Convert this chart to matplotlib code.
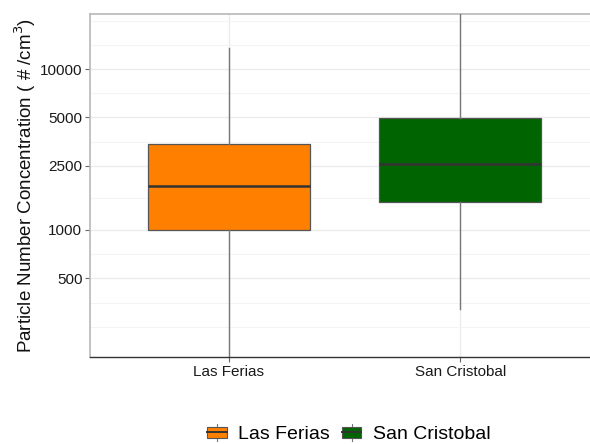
import numpy as np
import matplotlib.pyplot as plt
from matplotlib.legend_handler import HandlerBase
from matplotlib.patches import Rectangle
from matplotlib.lines import Line2D
from matplotlib.ticker import NullFormatter

plt.rcParams['font.family'] = ['Liberation Sans', 'DejaVu Sans']

# Summary statistics per site (particles / cm^3)
sites = ['Las Ferias', 'San Cristobal']
q1 = [995, 1495]
median = [1885, 2570]
q3 = [3435, 4940]
whisker_low = [100, 322]
whisker_high = [13430, 40000]
colors = ['#FF8000', '#006400']

y_major = [500, 1000, 2500, 5000, 10000]
y_minor = [250, 354, 707, 1581, 3536, 7071, 14142, 20000]


class BoxKeyHandler(HandlerBase):
    """Legend key drawn like a small boxplot."""
    def create_artists(self, legend, orig_handle, xdescent, ydescent,
                       width, height, fontsize, trans):
        fc = orig_handle.get_facecolor()
        cx = -xdescent + width / 2
        rect = Rectangle((-xdescent, -ydescent + height * 0.15), width, height * 0.7,
                         facecolor=fc, edgecolor='#555555', lw=0.8, transform=trans)
        med = Line2D([-xdescent, -xdescent + width], [-ydescent + height / 2] * 2,
                     color='#333333', lw=1.4, transform=trans)
        top = Line2D([cx, cx], [-ydescent + height * 0.85, -ydescent + height * 1.05],
                     color='#777777', lw=0.8, transform=trans)
        bot = Line2D([cx, cx], [-ydescent - height * 0.05, -ydescent + height * 0.15],
                     color='#777777', lw=0.8, transform=trans)
        return [top, bot, rect, med]


fig = plt.figure(figsize=(5.9, 4.44), dpi=100)
ax = fig.add_axes([90 / 590, 1 - 357 / 444, 509 / 590, 343 / 444])

positions = np.arange(1, len(sites) + 1)
stats = []
for i, name in enumerate(sites):
    stats.append(dict(label=name, q1=q1[i], med=median[i], q3=q3[i],
                      whislo=whisker_low[i], whishi=whisker_high[i], fliers=[]))

bp = ax.bxp(stats, positions=positions, widths=0.7, patch_artist=True,
            showcaps=False, showfliers=False,
            boxprops=dict(edgecolor='#555555', linewidth=0.9),
            medianprops=dict(color='#333333', linewidth=1.8),
            whiskerprops=dict(color='#777777', linewidth=1.0), zorder=3)
for patch, c in zip(bp['boxes'], colors):
    patch.set_facecolor(c)

ax.set_yscale('log')
ax.set_ylim(162.6, 21960)
ax.set_xlim(0.4, 2.6)

ax.set_yticks(y_major)
ax.set_yticklabels([str(v) for v in y_major])
ax.set_yticks(y_minor, minor=True)
ax.yaxis.set_minor_formatter(NullFormatter())
ax.tick_params(axis='y', which='minor', length=0)
ax.set_xticks(positions)
ax.set_xticklabels(sites)

ax.grid(axis='y', which='major', color='#ebebeb', lw=1.0, zorder=0)
ax.grid(axis='y', which='minor', color='#f4f4f4', lw=0.8, zorder=0)
ax.grid(axis='x', which='major', color='#ebebeb', lw=1.0, zorder=0)
ax.set_axisbelow(True)

for side in ['top', 'left', 'right']:
    ax.spines[side].set_color('#b8b8b8')
    ax.spines[side].set_linewidth(1.2)
ax.spines['bottom'].set_color('#333333')
ax.spines['bottom'].set_linewidth(1.0)

ax.tick_params(axis='both', which='major', length=3.5, width=0.8, color='#666666',
               labelsize=11, labelcolor='#1a1a1a', pad=2)

ax.set_ylabel('Particle Number Concentration ( # /cm$^3$)', fontsize=13.5,
              color='#111111')
ax.yaxis.set_label_coords(-52 / 509, 0.5)

handles = [Rectangle((0, 0), 1, 1, facecolor=c) for c in colors]
fig.legend(handles, sites, handler_map={Rectangle: BoxKeyHandler()},
           loc='center', bbox_to_anchor=(349 / 590, 1 - 434 / 444), ncol=2,
           frameon=False, fontsize=14, handlelength=1.0, handleheight=0.8,
           handletextpad=0.6, columnspacing=0.6)

fig.savefig('out.png', dpi=100)
